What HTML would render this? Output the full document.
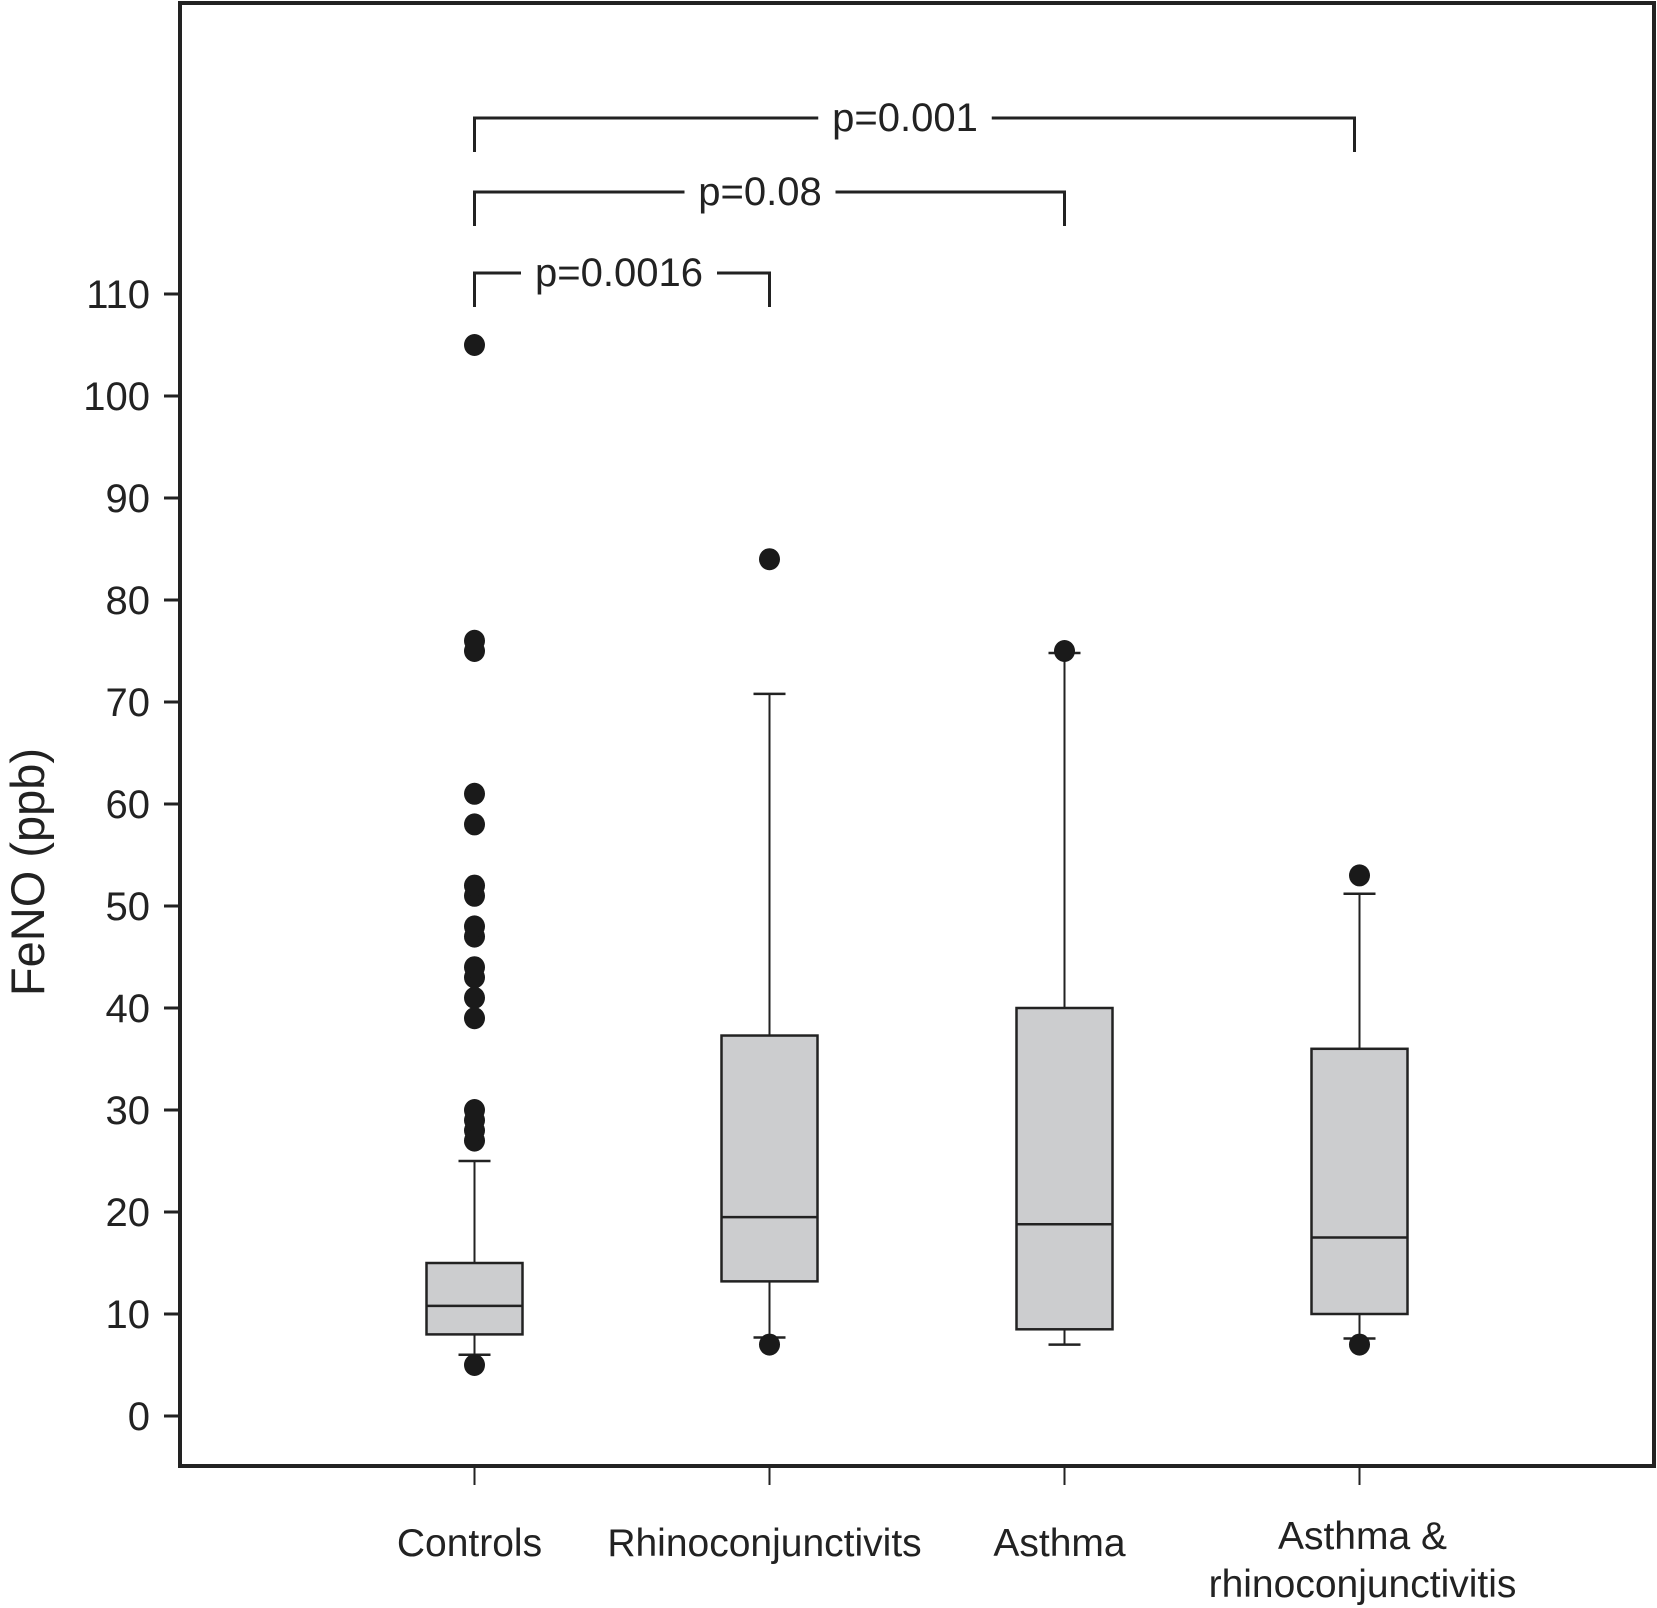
<!DOCTYPE html>
<html><head><meta charset="utf-8"><style>
html,body{margin:0;padding:0;background:#fff;}
svg{display:block;font-family:"Liberation Sans",Arial,sans-serif;}
</style></head><body>
<svg id="chart" width="1657" height="1608" viewBox="0 0 1657 1608" xmlns="http://www.w3.org/2000/svg"></svg>
<script>
const categories = ["Controls","Rhinoconjunctivits","Asthma","Asthma & rhinoconjunctivitis"];
const whiskerLow = [6, 7.7, 7, 7.6];
const q1 = [8, 13.2, 8.5, 10];
const median = [10.8, 19.5, 18.8, 17.5];
const q3 = [15, 37.3, 40, 36];
const whiskerHigh = [25, 70.8, 74.8, 51.2];
const outliers = [
  [5, 27, 28, 29, 30, 39, 41, 43, 44, 47, 48, 51, 52, 58, 61, 75, 76, 105],
  [7, 84],
  [75],
  [7, 53]
];
const yTicks = [0,10,20,30,40,50,60,70,80,90,100,110];
const comparisons = [
  {from:0, to:3, label:"p=0.001", level:2},
  {from:0, to:2, label:"p=0.08", level:1},
  {from:0, to:1, label:"p=0.0016", level:0}
];

const NS = "http://www.w3.org/2000/svg";
const svg = document.getElementById("chart");
function mk(tag, attrs, parent){
  const e = document.createElementNS(NS, tag);
  for (const k in attrs) e.setAttribute(k, attrs[k]);
  (parent||svg).appendChild(e);
  return e;
}
const y0px = 1416, y110px = 294;
function yScale(v){ return y0px - (v/110)*(y0px - y110px); }
function xScale(i){ return 474.5 + i*295; }
const boxW = 96;

let frame = mk("rect",{x:180,y:3,width:1474,height:1463,fill:"none",stroke:"#222","stroke-width":4});



yTicks.forEach(t=>{
  const y = yScale(t);
  const tk = mk("line",{x1:164,x2:180,y1:y,y2:y,stroke:"#222","stroke-width":3});
  
  
  const tx = mk("text",{x:150,y:y+14,"text-anchor":"end","font-size":40,fill:"#222"});
  tx.textContent = t;
  
  
});
const yt = mk("text",{x:0,y:0,"text-anchor":"middle","font-size":47,fill:"#222",transform:"translate(44,872) rotate(-90)"});
yt.textContent = "FeNO (ppb)";



categories.forEach((c,i)=>{
  const x = xScale(i);
  const tk = mk("line",{x1:x,x2:x,y1:1466,y2:1485,stroke:"#222","stroke-width":2});
  
  
  if (c === "Asthma & rhinoconjunctivitis"){
    const t1 = mk("text",{x:x+3,y:1549,"text-anchor":"middle","font-size":39,fill:"#222"});
    t1.textContent = "Asthma &";
    
    
    const t2 = mk("text",{x:x+3,y:1597,"text-anchor":"middle","font-size":39,fill:"#222"});
    t2.textContent = "rhinoconjunctivitis";
    
    
  } else {
    const t = mk("text",{x:x-5,y:1556,"text-anchor":"middle","font-size":39,fill:"#222"});
    t.textContent = c;
    
    
  }
});

categories.forEach((c,i)=>{
  const x = xScale(i);
  const g = mk("g",{});
  
  
  mk("line",{x1:x,x2:x,y1:yScale(whiskerLow[i]),y2:yScale(q1[i]),stroke:"#222","stroke-width":2},g);
  mk("line",{x1:x,x2:x,y1:yScale(q3[i]),y2:yScale(whiskerHigh[i]),stroke:"#222","stroke-width":2},g);
  mk("line",{x1:x-16,x2:x+16,y1:yScale(whiskerLow[i]),y2:yScale(whiskerLow[i]),stroke:"#222","stroke-width":2.5},g);
  mk("line",{x1:x-16,x2:x+16,y1:yScale(whiskerHigh[i]),y2:yScale(whiskerHigh[i]),stroke:"#222","stroke-width":2.5},g);
  mk("rect",{x:x-boxW/2,y:yScale(q3[i]),width:boxW,height:yScale(q1[i])-yScale(q3[i]),fill:"#cccdcf",stroke:"#222","stroke-width":2.5},g);
  mk("line",{x1:x-boxW/2,x2:x+boxW/2,y1:yScale(median[i]),y2:yScale(median[i]),stroke:"#222","stroke-width":2.5},g);
  outliers[i].forEach(v=>{
    const d = mk("ellipse",{cx:x,cy:yScale(v),rx:10.5,ry:11,fill:"#1a1a1a"},g);
    
    
  });
});

const levelY = [273, 192, 118];
comparisons.forEach(cmp=>{
  const x1 = xScale(cmp.from), x2 = xScale(cmp.to) - (cmp.to===3 ? 5 : 0);
  const y = levelY[cmp.level];
  const g = mk("g",{});
  
  
  mk("path",{d:`M${x1},${y+34} V${y} H${x2} V${y+34}`,fill:"none",stroke:"#222","stroke-width":3},g);
  const cx = cmp.level===0 ? (x1+x2)/2 - 3 : (cmp.level===1 ? 760 : 905);
  const tw = cmp.label.length*22.5;
  mk("rect",{x:cx-tw/2-8,y:y-25,width:tw+16,height:45,fill:"#fff"},g);
  const t = mk("text",{x:cx,y:y+13,"text-anchor":"middle","font-size":40,fill:"#222"},g);
  t.textContent = cmp.label;
  
  
});
</script>
</body></html>
